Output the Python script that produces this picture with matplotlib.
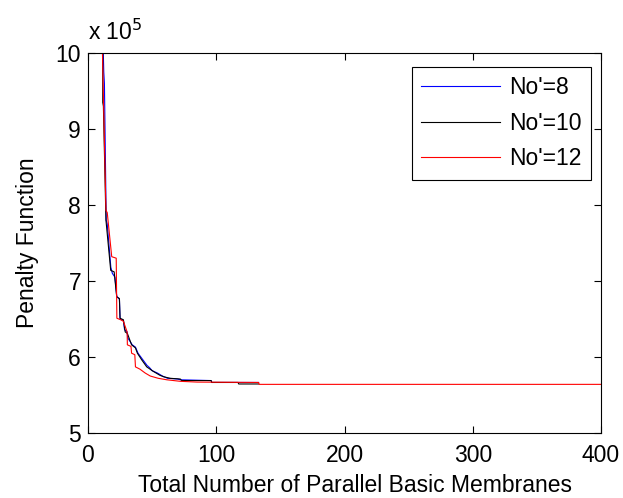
import matplotlib
matplotlib.use('Agg')
import matplotlib.pyplot as plt
from matplotlib.ticker import FuncFormatter

plt.rcParams['font.family'] = ['Liberation Sans', 'DejaVu Sans']

# ---------------------------------------------------
#  Data (penalty values in units of 1e5)
# ---------------------------------------------------
x8 = [11.5, 12.3, 12.8, 14.2, 15, 17.8, 19, 21, 22.4, 24.5, 25, 27.6, 28.5, 30.5, 31, 33,
      34.5, 37, 39, 42.5, 46, 48, 50, 54, 58, 62, 70, 72, 96, 96.5, 133]
y8 = [10.3, 9.75, 9.6, 7.8, 7.75, 7.18, 7.1, 7.05, 6.8, 6.76, 6.5, 6.48, 6.36, 6.33, 6.25, 6.2,
      6.16, 6.13, 6.05, 5.97, 5.89, 5.86, 5.82, 5.79, 5.75, 5.72, 5.71, 5.70, 5.69, 5.665, 5.665]

x10 = [11.5, 11.5, 12, 14, 17.7, 20.4, 22.4, 24.5, 25, 27.6, 29, 30.7, 34, 37, 38.5, 42,
       45.8, 51, 56, 59, 64, 72, 73, 96, 96.5, 117, 117.5, 133]
y10 = [10.5, 9.35, 9.3, 7.8, 7.14, 7.12, 6.79, 6.77, 6.51, 6.49, 6.33, 6.31, 6.16, 6.12, 6.05, 5.96,
       5.87, 5.81, 5.76, 5.74, 5.72, 5.71, 5.69, 5.69, 5.665, 5.665, 5.645, 5.645]

x12 = [11, 14, 15, 18.5, 22, 22.5, 25.5, 27.6, 30.5, 30.7, 33.5, 34, 36.5, 37, 40.5, 44.5,
       48.5, 54.7, 61.5, 72, 85, 133, 133.5, 400]
y12 = [10.2, 7.93, 7.9, 7.32, 7.30, 6.51, 6.49, 6.47, 6.33, 6.16, 6.14, 6.05, 6.03, 5.87, 5.84, 5.79,
       5.75, 5.72, 5.70, 5.68, 5.67, 5.665, 5.64, 5.64]

labels = ["No'=8", "No'=10", "No'=12"]

# ---------------------------------------------------
#  Graph
# ---------------------------------------------------
fs = 16.5
fig = plt.figure(figsize=(6.23, 4.98), dpi=100)
ax = fig.add_axes([88 / 623, 65 / 498, 513 / 623, 380 / 498])

ax.plot(x8, [v * 1e5 for v in y8], color='#0000ff', lw=0.8, label=labels[0])
ax.plot(x10, [v * 1e5 for v in y10], color='black', lw=0.8, label=labels[1])
ax.plot(x12, [v * 1e5 for v in y12], color='#ff0000', lw=0.8, label=labels[2])

ax.set_xlim(0, 400)
ax.set_ylim(5e5, 10e5)
ax.set_xticks([0, 100, 200, 300, 400])
ax.set_yticks([5e5, 6e5, 7e5, 8e5, 9e5, 10e5])
ax.yaxis.set_major_formatter(FuncFormatter(lambda v, p: '%g' % (v / 1e5)))
ax.tick_params(direction='in', top=True, right=True, length=5, width=0.8,
               labelsize=fs, pad=5)
ax.tick_params(axis='x', pad=8)
for s in ax.spines.values():
    s.set_linewidth(0.8)

ax.text(0.0, 1.02, r'x 10$^5$', transform=ax.transAxes, fontsize=fs,
        ha='left', va='bottom')

ax.set_xlabel('Total Number of Parallel Basic Membranes', fontsize=fs)
ax.xaxis.set_label_coords(0.52, -0.108)
ax.set_ylabel('Penalty Function', fontsize=fs, labelpad=12)

leg = ax.legend(loc='upper right', bbox_to_anchor=(0.98, 0.963), fontsize=fs,
                handlelength=3.45, handletextpad=0.4, labelspacing=0.55,
                borderpad=0.4, borderaxespad=0, fancybox=False, framealpha=1,
                edgecolor='black')
leg.get_frame().set_linewidth(0.8)

fig.savefig('out.png', dpi=100)
